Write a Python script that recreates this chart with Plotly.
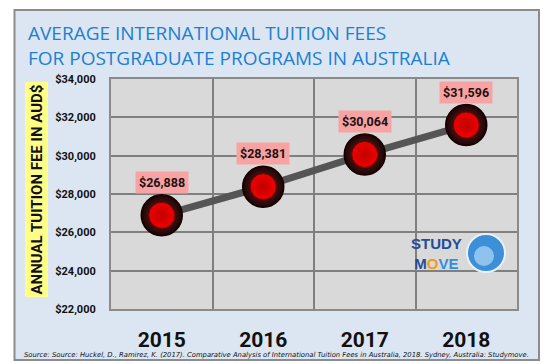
import plotly.graph_objects as go

years = ["2015", "2016", "2017", "2018"]
fees = [26888, 28381, 30064, 31596]
y_ticks = [22000, 24000, 26000, 28000, 30000, 32000, 34000]

W_FIG, H_FIG = 554, 364
L, T, R, B = 111, 79, 517, 309
PW, PH = R - L, B - T


def px(x):
    return (x - L) / PW


def py(y):
    return (B - y) / PH


BOLDF = "Roboto, Liberation Sans, Arial, sans-serif"
xs = list(range(len(years)))

fig = go.Figure()

fig.add_trace(go.Scatter(
    x=xs, y=fees, mode="lines",
    line=dict(color="#555555", width=7),
    hoverinfo="skip", showlegend=False))
fig.add_trace(go.Scatter(
    x=xs, y=fees, mode="markers",
    marker=dict(size=41, color="#1e0202",
                gradient=dict(type="radial", color="#6e3030"),
                line=dict(color="#120000", width=1.5)),
    hoverinfo="skip", showlegend=False))
fig.add_trace(go.Scatter(
    x=xs, y=fees, mode="markers",
    marker=dict(size=26, color="#f00000",
                gradient=dict(type="radial", color="#c00000"),
                line=dict(color="#7a0000", width=1)),
    hoverinfo="skip", showlegend=False))

shapes = [
    dict(type="rect", xref="paper", yref="paper", layer="below",
         x0=px(14.5), x1=px(539), y0=py(360), y1=py(10),
         fillcolor="#dce6f2", line=dict(color="#8c8c8c", width=2)),
    dict(type="rect", xref="paper", yref="paper", layer="below",
         x0=0, x1=1, y0=0, y1=1,
         fillcolor="#d9d9d9", line=dict(width=0)),
    # globe of logo
    dict(type="circle", xref="paper", yref="paper", layer="above",
         x0=px(467), x1=px(505), y0=py(272), y1=py(234),
         fillcolor="#3d8fd8", line=dict(color="#e8f2fb", width=2)),
    dict(type="circle", xref="paper", yref="paper", layer="above",
         x0=px(474), x1=px(494), y0=py(266), y1=py(246),
         fillcolor="#8fc3ee", line=dict(width=0)),
]

annotations = [
    dict(text="AVERAGE INTERNATIONAL TUITION FEES<br>FOR POSTGRADUATE PROGRAMS IN AUSTRALIA",
         xref="paper", yref="paper", x=px(26), y=py(18), xanchor="left", yanchor="top",
         align="left", showarrow=False,
         font=dict(family="Open Sans, sans-serif", size=19, color="#1c7fd2")),
    dict(text="ANNUAL TUITION FEE IN AUD$", xref="paper", yref="paper",
         x=px(36.5), y=py(190), xanchor="center", yanchor="middle",
         textangle=-90, showarrow=False,
         bgcolor="#ffff88", borderpad=2,
         font=dict(family=BOLDF, size=15, color="#111111", weight="bold")),
    dict(text="Source: Source: Huckel, D., Ramirez, K. (2017). Comparative Analysis of International Tuition Fees in Australia, 2018. Sydney, Australia: Studymove.",
         xref="paper", yref="paper", x=px(276), y=py(355), xanchor="center", yanchor="middle",
         showarrow=False,
         font=dict(family="DejaVu Sans, sans-serif", size=6.8, color="#111111", style="italic")),
    dict(text="STUDY<br>M<span style='color:#f39c12'>O</span><span style='color:#2e8fe6'>VE</span>",
         xref="paper", yref="paper", x=px(436), y=py(253), xanchor="center", yanchor="middle",
         showarrow=False, align="center",
         font=dict(family="Liberation Sans, Arial, sans-serif", size=15, color="#1f4e9a", weight="bold")),
]

for xi, v in zip(xs, fees):
    annotations.append(dict(
        text=f"${v:,}", x=xi, y=v, xref="x", yref="y", yshift=33,
        showarrow=False, bgcolor="#f8a3a3", borderpad=3,
        font=dict(family=BOLDF, size=12.5, color="#221111", weight="bold")))

fig.update_layout(
    width=W_FIG, height=H_FIG,
    margin=dict(l=L, r=W_FIG - R, t=T, b=H_FIG - B, pad=0),
    paper_bgcolor="white", plot_bgcolor="rgba(0,0,0,0)",
    shapes=shapes, annotations=annotations, showlegend=False,
    xaxis=dict(range=[-0.5, 3.5], tickmode="array", tickvals=xs, ticktext=years,
               showgrid=False, zeroline=False, fixedrange=True,
               showline=True, mirror=True, linecolor="#8a8a8a", linewidth=2,
               ticks="", ticklabelstandoff=11,
               minor=dict(tickmode="array", tickvals=[0.5, 1.5, 2.5], showgrid=True,
                          gridcolor="#7f7f7f", gridwidth=2, ticks=""),
               tickfont=dict(family=BOLDF, size=21, color="#111111", weight="bold")),
    yaxis=dict(range=[22000, 34000], tickmode="array", tickvals=y_ticks,
               ticktext=[f"${t:,}" for t in y_ticks],
               showgrid=True, gridcolor="#7f7f7f", gridwidth=2, zeroline=False,
               showline=True, mirror=True, linecolor="#8a8a8a", linewidth=2,
               ticks="", ticklabelstandoff=11, fixedrange=True,
               tickfont=dict(family=BOLDF, size=11, color="#111111", weight="bold")),
)

fig.write_html("out.html", config={"displayModeBar": False},
               post_script="document.body.style.margin='0';")
